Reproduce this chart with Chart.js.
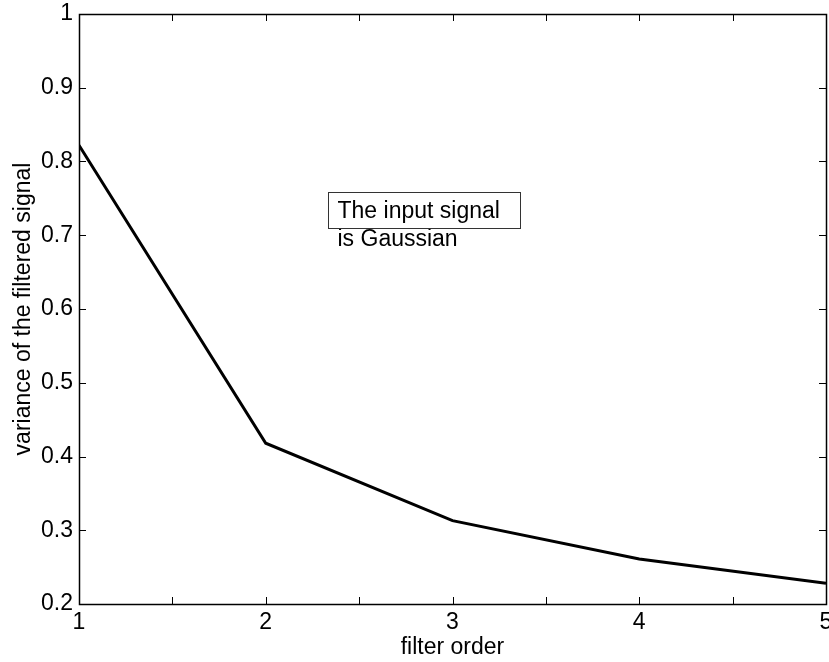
<!DOCTYPE html>
<html>
<head>
  <title>Filter order vs variance</title>
  <script src="https://cdn.jsdelivr.net/npm/chart.js"></script>
  <style>
    body {
        margin: 0;
        background-color: white;
    }
    canvas {
        display: block;
    }
  </style>
</head>
<body>
    <canvas id="myChart" width="829" height="662"></canvas>

    <script>
        // values
        const filterOrder = [1, 2, 3, 4, 5];
        const variance = [0.822, 0.418, 0.313, 0.261, 0.228];
        const annotationLines = ['The input signal', 'is Gaussian'];
        const annotationAt = { x: 2.333, y: 0.759 };

        const FONT = 'Arial, Helvetica, sans-serif';
        const FSIZE = 23;

        // MATLAB style box with inward ticks, plus the text note
        const matlabFrame = {
            id: 'matlabFrame',
            afterDraw(chart) {
                const ctx = chart.ctx;
                const xs = chart.scales.x;
                const ys = chart.scales.y;
                const a = chart.chartArea;
                const tl = 7;

                ctx.save();
                ctx.strokeStyle = '#000';
                ctx.lineWidth = 1;
                ctx.beginPath();
                xs.ticks.forEach(t => {
                    const px = Math.round(xs.getPixelForValue(t.value)) + 0.5;
                    ctx.moveTo(px, a.bottom); ctx.lineTo(px, a.bottom - tl);
                    ctx.moveTo(px, a.top); ctx.lineTo(px, a.top + tl);
                });
                ys.ticks.forEach(t => {
                    const py = Math.round(ys.getPixelForValue(t.value)) + 0.5;
                    ctx.moveTo(a.left, py); ctx.lineTo(a.left + tl, py);
                    ctx.moveTo(a.right, py); ctx.lineTo(a.right - tl, py);
                });
                ctx.stroke();

                ctx.lineWidth = 1.5;
                ctx.strokeRect(Math.round(a.left) + 0.5, Math.round(a.top) + 0.5,
                    Math.round(a.right - a.left), Math.round(a.bottom - a.top));

                // text note
                const bx = Math.round(xs.getPixelForValue(annotationAt.x)) + 0.5;
                const by = Math.round(ys.getPixelForValue(annotationAt.y)) + 0.5;
                ctx.font = FSIZE + 'px ' + FONT;
                ctx.fillStyle = '#000';
                ctx.textBaseline = 'alphabetic';
                ctx.textAlign = 'left';
                const w = ctx.measureText(annotationLines[0]).width;
                ctx.fillText(annotationLines[0], bx + 9, by + 25);
                ctx.fillText(annotationLines[1], bx + 9, by + 53);
                ctx.strokeStyle = '#333';
                ctx.lineWidth = 1;
                ctx.strokeRect(bx, by, Math.round(w + 30), 36);
                ctx.restore();
            }
        };

        const ctx = document.getElementById('myChart').getContext('2d');
        const myChart = new Chart(ctx, {
            type: 'line',
            data: {
                datasets: [{
                    data: filterOrder.map((x, i) => ({ x: x, y: variance[i] })),
                    borderColor: '#000',
                    borderWidth: 3,
                    pointRadius: 0,
                    tension: 0,
                    fill: false
                }]
            },
            options: {
                responsive: false,
                animation: false,
                devicePixelRatio: 1,
                layout: {
                    padding: { top: 14, right: 3, left: 0, bottom: 0 }
                },
                plugins: {
                    legend: { display: false },
                    tooltip: { enabled: false }
                },
                scales: {
                    x: {
                        type: 'linear',
                        min: 1,
                        max: 5,
                        grid: { display: false, tickLength: 0 },
                        border: { display: false },
                        ticks: {
                            stepSize: 0.5,
                            autoSkip: false,
                            maxRotation: 0,
                            padding: 5,
                            color: '#000',
                            font: { family: FONT, size: FSIZE },
                            callback: v => Number.isInteger(v) ? String(v) : ''
                        },
                        title: {
                            display: true,
                            text: 'filter order',
                            color: '#000',
                            font: { family: FONT, size: FSIZE, lineHeight: 1 },
                            padding: { top: 0, bottom: 3 }
                        },
                        afterFit(scale) {
                            scale.height = 58;
                            scale.paddingLeft = 0;
                            scale.paddingRight = 0;
                        }
                    },
                    y: {
                        min: 0.2,
                        max: 1,
                        grid: { display: false, tickLength: 0 },
                        border: { display: false },
                        ticks: {
                            stepSize: 0.1,
                            padding: 6,
                            color: '#000',
                            font: { family: FONT, size: FSIZE },
                            callback: v => String(Math.round(v * 10) / 10)
                        },
                        title: {
                            display: true,
                            text: 'variance of the filtered signal',
                            color: '#000',
                            font: { family: FONT, size: FSIZE, lineHeight: 1 },
                            padding: { top: 12, bottom: 0 }
                        },
                        afterFit(scale) {
                            scale.width = 79;
                            scale.paddingTop = 0;
                            scale.paddingBottom = 0;
                        }
                    }
                }
            },
            plugins: [matlabFrame]
        });
    </script>
</body>
</html>
